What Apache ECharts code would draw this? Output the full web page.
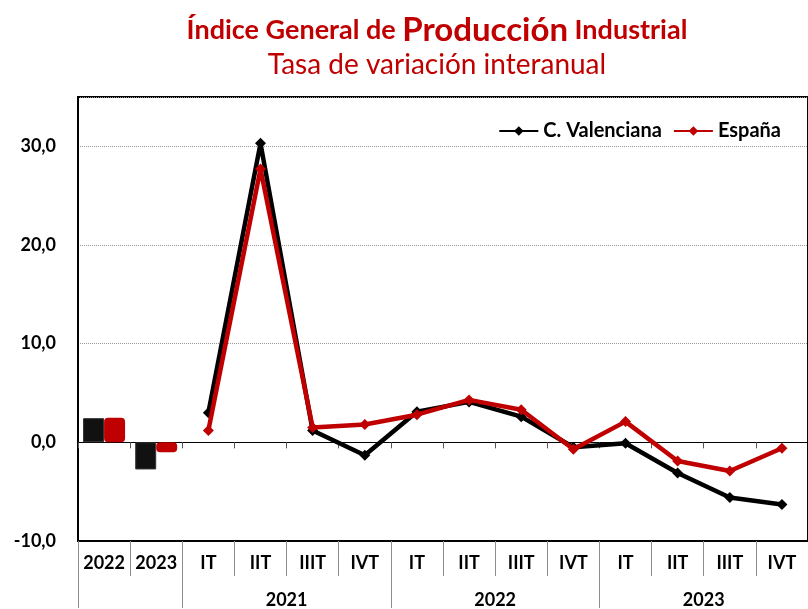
<!DOCTYPE html>
<html>
<head>
<meta charset="utf-8">
<script src="https://cdn.jsdelivr.net/npm/echarts@6/dist/echarts.min.js"></script>
<style>
  html, body { margin: 0; padding: 0; background: #fff; }
  #chart { width: 808px; height: 609px; }
</style>
</head>
<body>
<div id="chart"></div>
<script>
// categorias del eje
let quarters = ['2022', '2023', 'IT', 'IIT', 'IIIT', 'IVT', 'IT', 'IIT', 'IIIT', 'IVT', 'IT', 'IIT', 'IIIT', 'IVT'];
let yearGroups = { 4: '2021', 8: '2022', 12: '2023' };
let groupBounds = [0, 2, 6, 10, 14];

// medias anuales (barras)
let cvAnnual = [2.45, -2.75, null, null, null, null, null, null, null, null, null, null, null, null];
let esAnnual = [2.5, -1.0, null, null, null, null, null, null, null, null, null, null, null, null];

// trimestrales (lineas)
let cvQuarter = [null, null, 3.0, 30.3, 1.2, -1.3, 3.1, 4.1, 2.6, -0.5, -0.1, -3.1, -5.6, -6.3];
let esQuarter = [null, null, 1.2, 27.7, 1.5, 1.8, 2.8, 4.3, 3.3, -0.7, 2.1, -1.9, -2.9, -0.6];

let yTicks = [-10, 0, 10, 20, 30];

const RED = '#C00000';
const FONT = 'Lato';

let chart = echarts.init(document.getElementById('chart'));

let option = {
    animation: false,
    textStyle: { fontFamily: FONT },
    title: {
        left: 432,
        textAlign: 'center',
        top: 9,
        text: '{a|Índice General de }{b|Producción}{a| Industrial}',
        subtext: 'Tasa de variación interanual',
        itemGap: 4,
        textStyle: {
            rich: {
                a: { fontFamily: FONT, fontWeight: 'bold', fontSize: 27, color: RED },
                b: { fontFamily: FONT, fontWeight: 'bold', fontSize: 33, color: RED }
            }
        },
        subtextStyle: { fontFamily: FONT, fontSize: 28, color: RED }
    },
    legend: {
        data: ['C. Valenciana', 'España'],
        right: 22,
        top: 116,
        itemWidth: 39,
        itemHeight: 12,
        itemGap: 11,
        textStyle: { fontFamily: FONT, fontWeight: 'bold', fontSize: 20, color: '#000' }
    },
    grid: {
        left: 78,
        top: 97,
        width: 736,
        height: 446,
        show: true,
        borderColor: '#000',
        borderWidth: 2
    },
    xAxis: [
        {
            // eje en el cero
            type: 'category',
            data: quarters,
            position: 'bottom',
            axisLine: { onZero: true, lineStyle: { color: '#000', width: 1 } },
            axisTick: { show: true, interval: 0, length: 6, lineStyle: { color: '#555' } },
            axisLabel: { show: false },
            splitLine: { show: false }
        },
        {
            // etiquetas trimestrales
            type: 'category',
            data: quarters,
            position: 'bottom',
            axisLine: { onZero: false, lineStyle: { color: '#000', width: 2 } },
            axisTick: { show: true, interval: 0, length: 35, lineStyle: { color: '#8c8c8c' } },
            axisLabel: {
                interval: 0, margin: 13,
                fontFamily: FONT, fontWeight: 'bold', fontSize: 18, color: '#000'
            },
            splitLine: { show: false }
        },
        {
            // etiquetas de año
            type: 'value',
            min: 0,
            max: 14,
            position: 'bottom',
            offset: 35,
            axisLine: { show: false, onZero: false },
            axisTick: { show: true, length: 32, customValues: groupBounds, lineStyle: { color: '#8c8c8c' } },
            axisLabel: {
                customValues: [4, 8, 12],
                margin: 15,
                fontFamily: FONT, fontWeight: 'bold', fontSize: 18, color: '#000',
                formatter: function (v) { return yearGroups[v] || ''; }
            },
            splitLine: { show: false }
        }
    ],
    yAxis: {
        type: 'value',
        min: -10,
        max: 35,
        interval: 10,
        axisLine: { show: true, onZero: false, lineStyle: { color: '#000', width: 2 } },
        axisTick: { show: false },
        axisLabel: {
            margin: 22,
            fontFamily: FONT, fontWeight: 'bold', fontSize: 18, color: '#000',
            showMaxLabel: false,
            formatter: function (v) {
                if (yTicks.indexOf(v) < 0) return '';
                return v.toFixed(1).replace('.', ',');
            }
        },
        splitLine: { show: true, lineStyle: { color: '#9a9a9a', type: 'dotted', width: 1 } }
    },
    series: [
        {
            name: 'C. Valenciana (año)',
            type: 'bar',
            data: cvAnnual,
            barWidth: 21,
            barGap: 0,
            itemStyle: { color: '#111', borderColor: '#333', borderWidth: 1 }
        },
        {
            name: 'España (año)',
            type: 'bar',
            data: esAnnual,
            barWidth: 21,
            barGap: 0,
            itemStyle: { color: RED, borderColor: RED, borderWidth: 2, borderRadius: 3 }
        },
        {
            name: 'C. Valenciana',
            type: 'line',
            data: cvQuarter,
            symbol: 'diamond',
            symbolSize: 11,
            lineStyle: { color: '#000', width: 4.5 },
            itemStyle: { color: '#000' },
            z: 3
        },
        {
            name: 'España',
            type: 'line',
            data: esQuarter,
            symbol: 'diamond',
            symbolSize: 11,
            lineStyle: { color: RED, width: 4.5 },
            itemStyle: { color: RED },
            z: 4
        }
    ]
};

chart.setOption(option);
</script>
</body>
</html>
